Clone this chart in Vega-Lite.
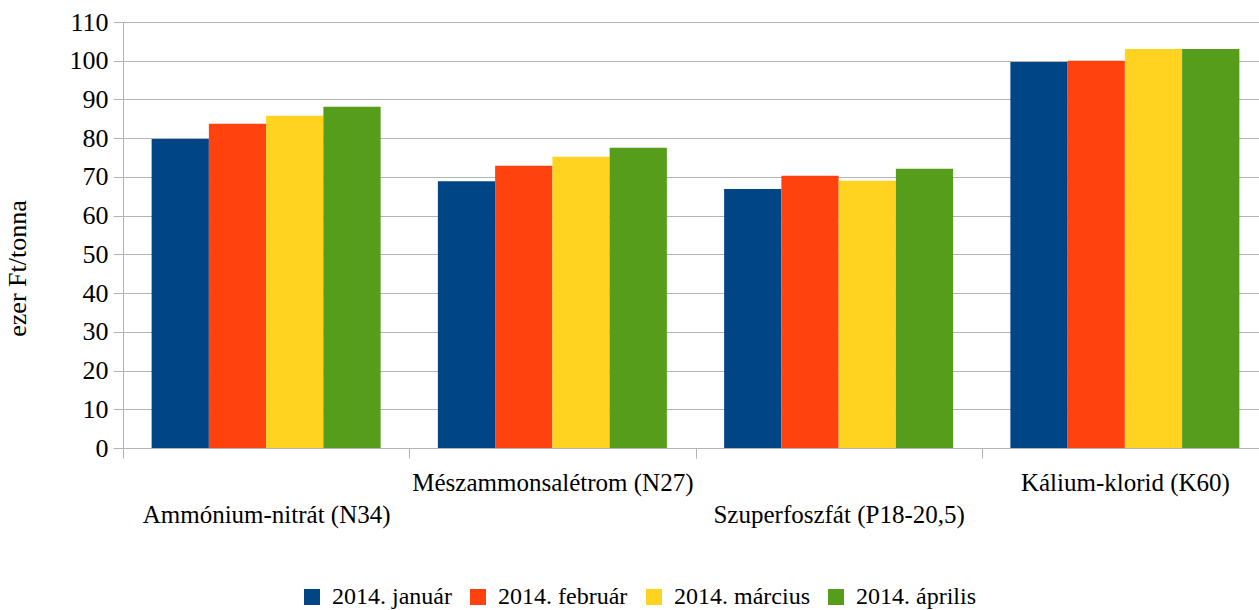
{
  "$schema": "https://vega.github.io/schema/vega-lite/v6.json",
  "width": 1145,
  "height": 426,
  "autosize": {"type": "none"},
  "padding": {"left": 123, "top": 22, "right": 0, "bottom": 162},
  "config": {
    "font": "Liberation Serif",
    "axis": {"labelFont": "Liberation Serif", "titleFont": "Liberation Serif"},
    "legend": {"labelFont": "Liberation Serif"},
    "view": {"stroke": null},
    "background": "white"
  },
  "data": {
    "values": [
      {"termek": "Ammónium-nitrát (N34)", "honap": "2014. január", "ertek": 79.8},
      {"termek": "Ammónium-nitrát (N34)", "honap": "2014. február", "ertek": 83.7},
      {"termek": "Ammónium-nitrát (N34)", "honap": "2014. március", "ertek": 85.8},
      {"termek": "Ammónium-nitrát (N34)", "honap": "2014. április", "ertek": 88.1},
      {"termek": "Mészammonsalétrom (N27)", "honap": "2014. január", "ertek": 68.9},
      {"termek": "Mészammonsalétrom (N27)", "honap": "2014. február", "ertek": 72.9},
      {"termek": "Mészammonsalétrom (N27)", "honap": "2014. március", "ertek": 75.2},
      {"termek": "Mészammonsalétrom (N27)", "honap": "2014. április", "ertek": 77.5},
      {"termek": "Szuperfoszfát (P18-20,5)", "honap": "2014. január", "ertek": 66.9},
      {"termek": "Szuperfoszfát (P18-20,5)", "honap": "2014. február", "ertek": 70.3},
      {"termek": "Szuperfoszfát (P18-20,5)", "honap": "2014. március", "ertek": 69.0},
      {"termek": "Szuperfoszfát (P18-20,5)", "honap": "2014. április", "ertek": 72.1},
      {"termek": "Kálium-klorid (K60)", "honap": "2014. január", "ertek": 99.7},
      {"termek": "Kálium-klorid (K60)", "honap": "2014. február", "ertek": 100.0},
      {"termek": "Kálium-klorid (K60)", "honap": "2014. március", "ertek": 103.0},
      {"termek": "Kálium-klorid (K60)", "honap": "2014. április", "ertek": 103.0}
    ]
  },
  "mark": {"type": "bar"},
  "encoding": {
    "x": {
      "field": "termek",
      "type": "nominal",
      "sort": ["Ammónium-nitrát (N34)", "Mészammonsalétrom (N27)", "Szuperfoszfát (P18-20,5)", "Kálium-klorid (K60)"],
      "scale": {"paddingInner": 0.2, "paddingOuter": 0.1},
      "axis": {
        "title": null,
        "labelAngle": 0,
        "labelFontSize": 25,
        "labelColor": "#000000",
        "labelLineHeight": 32,
        "labelPadding": 12,
        "labelLimit": 0,
        "labelOverlap": false,
        "tickSize": 10,
        "bandPosition": 0,
        "tickOffset": -28.625,
        "labelOffset": 28.625,
        "tickColor": "#b3b3b3",
        "domainColor": "#b3b3b3",
        "labelExpr": "indexof(['Mészammonsalétrom (N27)', 'Kálium-klorid (K60)'], datum.value) >= 0 ? [datum.label] : ['', datum.label]"
      }
    },
    "xOffset": {
      "field": "honap",
      "type": "nominal",
      "sort": ["2014. január", "2014. február", "2014. március", "2014. április"],
      "scale": {"paddingInner": 0, "paddingOuter": 0}
    },
    "y": {
      "field": "ertek",
      "type": "quantitative",
      "scale": {"domain": [0, 110], "nice": false},
      "axis": {
        "title": "ezer Ft/tonna",
        "values": [0, 10, 20, 30, 40, 50, 60, 70, 80, 90, 100, 110],
        "labelFontSize": 26,
        "labelColor": "#000000",
        "labelPadding": 5,
        "tickSize": 10,
        "tickColor": "#b3b3b3",
        "domainColor": "#b3b3b3",
        "gridColor": "#b3b3b3",
        "gridOpacity": 1,
        "titleFontSize": 26,
        "titleFontWeight": "normal",
        "titleColor": "#000000",
        "titleX": -106,
        "titleY": 246,
        "titleAlign": "center",
        "titleBaseline": "middle",
        "titleAngle": -90
      }
    },
    "color": {
      "field": "honap",
      "type": "nominal",
      "sort": ["2014. január", "2014. február", "2014. március", "2014. április"],
      "scale": {
        "domain": ["2014. január", "2014. február", "2014. március", "2014. április"],
        "range": ["#004586", "#ff420e", "#ffd320", "#579d1c"]
      },
      "legend": {
        "title": null,
        "orient": "none",
        "direction": "horizontal",
        "legendX": 177,
        "legendY": 563,
        "symbolType": "square",
        "symbolSize": 256,
        "symbolStrokeWidth": 0,
        "symbolOpacity": 1,
        "labelFontSize": 24,
        "labelColor": "#000000",
        "labelOffset": 8,
        "columnPadding": 14
      }
    }
  }
}
